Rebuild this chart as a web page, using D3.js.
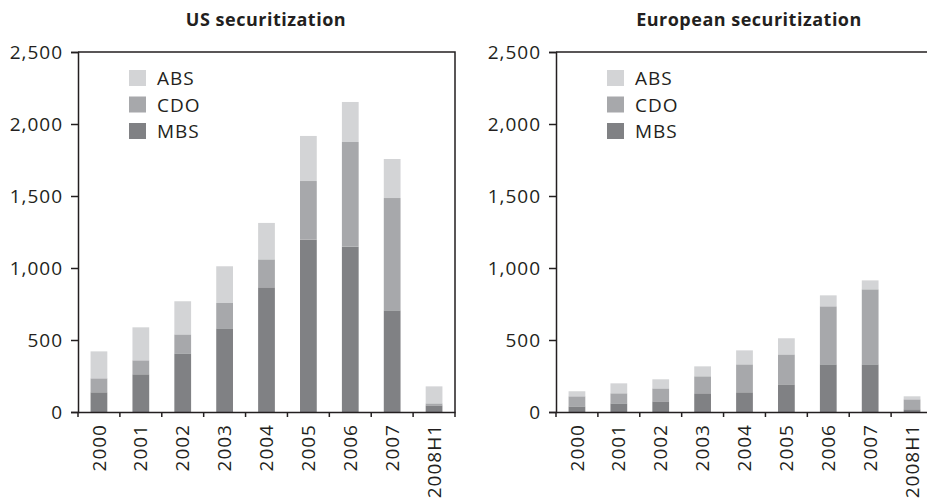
<!DOCTYPE html>
<html>
<head>
<meta charset="utf-8">
<script src="https://cdn.jsdelivr.net/npm/d3@7"></script>
<style>
  body { margin: 0; background: #fff; }
  svg { display: block; font-family: "Open Sans", "Lato", sans-serif; }
</style>
</head>
<body>
<div id="chart-area"></div>
<script>

// data (USD bn)
let years = ["2000", "2001", "2002", "2003", "2004", "2005", "2006", "2007", "2008H1"];
let series = ["MBS", "CDO", "ABS"];
let legendOrder = ["ABS", "CDO", "MBS"];

let usMBS = [137, 262, 407, 581, 866, 1197, 1148, 706, 46];
let usCDO = [97, 97, 132, 176, 194, 407, 727, 780, 14];
let usABS = [187, 229, 230, 255, 253, 313, 278, 271, 118];

let euMBS = [39, 60, 74, 130, 137, 192, 331, 331, 19];
let euCDO = [70, 70, 90, 118, 194, 208, 403, 521, 69];
let euABS = [35, 69, 63, 69, 97, 112, 76, 62, 21];

let yTicks = [0, 500, 1000, 1500, 2000, 2500];

let colors = {ABS: "#d3d4d6", CDO: "#a7a8ab", MBS: "#808184"};

let width = 927,
	height = 499;

let svg = d3.select("#chart-area").append("svg")
	.attr("width", width)
	.attr("height", height);

let panels = [
	{title: "US securitization", left: 78, titleX: 266, mbs: usMBS, cdo: usCDO, abs: usABS},
	{title: "European securitization", left: 556, titleX: 749, mbs: euMBS, cdo: euCDO, abs: euABS}
];

panels.forEach(p => drawPanel(p));

function styleText(sel) {
	sel.attr("font-size", 19)
		.attr("font-family", "Open Sans, Lato, sans-serif")
		.attr("letter-spacing", 1)
		.attr("fill", "#231f20");
}

function drawPanel(p) {

	let plotW = 377,
		top = 52,
		bottom = 412;

	let rows = years.map((y, i) => ({year: y, MBS: p.mbs[i], CDO: p.cdo[i], ABS: p.abs[i]}));
	let stacked = d3.stack().keys(series)(rows);

	// scales
	let x = d3.scaleBand()
		.domain(years)
		.range([p.left, p.left + plotW])
		.paddingInner(0.6)
		.paddingOuter(0.3);

	let y = d3.scaleLinear()
		.domain([0, 2500])
		.range([bottom, top]);

	let g = svg.append("g");

	// title
	g.append("text")
		.attr("x", p.titleX)
		.attr("y", 26)
		.attr("text-anchor", "middle")
		.attr("font-size", 18)
		.attr("font-weight", "bold")
		.attr("letter-spacing", 0.5)
		.attr("fill", "#231f20")
		.text(p.title);

	// bars
	g.selectAll(".layer").data(stacked)
		.enter().append("g")
		.attr("fill", d => colors[d.key])
		.selectAll("rect").data(d => d)
		.enter().append("rect")
		.attr("x", d => x(d.data.year))
		.attr("width", x.bandwidth())
		.attr("y", d => y(d[1]))
		.attr("height", d => y(d[0]) - y(d[1]));

	// frame (top + right)
	g.append("path")
		.attr("d", `M${p.left},${top}H${p.left + plotW}V${bottom}`)
		.attr("fill", "none")
		.attr("stroke", "#231f20")
		.attr("stroke-width", 1.5);

	// y axis
	let yAxis = d3.axisLeft(y)
		.tickValues(yTicks)
		.tickFormat(d3.format(","))
		.tickSize(7)
		.tickPadding(8);

	let yg = g.append("g")
		.attr("transform", `translate(${p.left},0)`)
		.call(yAxis);
	yg.select(".domain").attr("stroke", "#231f20").attr("stroke-width", 1.5);
	yg.selectAll(".tick line").attr("stroke", "#231f20").attr("stroke-width", 1.5);
	yg.selectAll(".tick text").call(styleText);

	// x axis: labels at band centres, ticks at band boundaries
	let xAxis = d3.axisBottom(x)
		.tickSize(0)
		.tickPadding(0);

	let xg = g.append("g")
		.attr("transform", `translate(0,${bottom})`)
		.call(xAxis);
	xg.select(".domain").attr("stroke", "#231f20").attr("stroke-width", 1.5);
	xg.selectAll(".tick text")
		.call(styleText)
		.attr("transform", "rotate(-90)")
		.attr("text-anchor", "end")
		.attr("dy", "0.35em")
		.attr("x", -12)
		.attr("y", 0);

	xg.selectAll(".sep").data(d3.range(years.length + 1))
		.enter().append("line")
		.attr("class", "sep")
		.attr("x1", i => p.left + i * x.step())
		.attr("x2", i => p.left + i * x.step())
		.attr("y1", 0)
		.attr("y2", 5)
		.attr("stroke", "#231f20")
		.attr("stroke-width", 1.5);

	// legend
	let lg = g.selectAll(".legend").data(legendOrder)
		.enter().append("g")
		.attr("transform", (d, i) => `translate(${p.left + 51},${70 + i * 26.5})`);

	lg.append("rect")
		.attr("width", 17)
		.attr("height", 16)
		.attr("fill", d => colors[d]);

	lg.append("text")
		.attr("x", 28)
		.attr("y", 15)
		.call(styleText)
		.text(d => d);
}

</script>
</body>
</html>
